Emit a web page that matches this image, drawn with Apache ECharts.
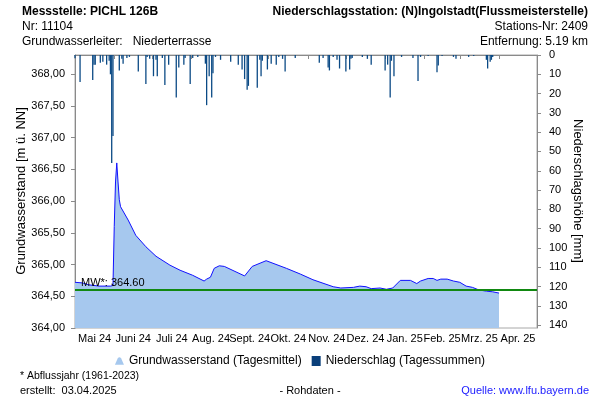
<!DOCTYPE html>
<html><head><meta charset="utf-8">
<script src="https://cdn.jsdelivr.net/npm/echarts@6/dist/echarts.min.js"></script>
<style>html,body{margin:0;padding:0;background:#fff}#c{width:600px;height:400px}</style>
</head><body><div id="c"></div><script>
// ---- data ----
const monthStarts = ['2024-05-01','2024-06-01','2024-07-01','2024-08-01','2024-09-01','2024-10-01','2024-11-01','2024-12-01','2025-01-01','2025-02-01','2025-03-01','2025-04-01','2025-05-01'];
const monthLabels = ['Mai 24','Juni 24','Juli 24','Aug. 24','Sept. 24','Okt. 24','Nov. 24','Dez. 24','Jan. 25','Feb. 25','Mrz. 25','Apr. 25'];

const gwDates = [
 '2024-05-01','2024-05-07','2024-05-12','2024-05-20','2024-05-29','2024-05-31',
 '2024-06-01','2024-06-02','2024-06-03','2024-06-04','2024-06-05','2024-06-06','2024-06-12','2024-06-18','2024-06-26',
 '2024-07-04','2024-07-15','2024-07-23',
 '2024-08-02','2024-08-11','2024-08-13','2024-08-14','2024-08-16','2024-08-19','2024-08-23','2024-08-27',
 '2024-09-12','2024-09-18','2024-09-29',
 '2024-10-15','2024-10-26',
 '2024-11-05','2024-11-21','2024-11-27',
 '2024-12-07','2024-12-12','2024-12-17','2024-12-21','2024-12-28',
 '2025-01-02','2025-01-07','2025-01-13','2025-01-21','2025-01-26','2025-01-29',
 '2025-02-04','2025-02-08','2025-02-11','2025-02-14','2025-02-19','2025-02-24',
 '2025-03-01','2025-03-06','2025-03-11','2025-03-16','2025-03-22','2025-03-27',
 '2025-04-01'];
const gwLevels = [
 364.72,364.71,364.68,364.66,364.66,364.67,
 365.60,366.30,366.60,366.30,366.02,365.91,365.70,365.46,365.28,
 365.13,364.99,364.91,
 364.83,364.74,364.77,364.75,364.80,364.94,364.98,364.97,
 364.82,364.97,365.06,
 364.94,364.85,
 364.76,364.65,364.63,
 364.64,364.66,364.65,364.62,364.63,
 364.61,364.63,364.75,364.75,364.70,364.74,
 364.78,364.78,364.75,364.77,364.77,364.74,
 364.72,364.66,364.64,364.60,364.58,364.57,
 364.55];

const rainDates = [
 '2024-05-01','2024-05-05','2024-05-15','2024-05-16','2024-05-17','2024-05-21','2024-05-23','2024-05-26','2024-05-28','2024-05-29','2024-05-30','2024-05-31',
 '2024-06-05','2024-06-07','2024-06-08','2024-06-11','2024-06-13','2024-06-20','2024-06-26','2024-06-27','2024-06-29',
 '2024-07-02','2024-07-04','2024-07-05','2024-07-09','2024-07-11','2024-07-14','2024-07-20','2024-07-22','2024-07-26','2024-07-27','2024-07-31',
 '2024-08-02','2024-08-06','2024-08-12','2024-08-13','2024-08-15','2024-08-17','2024-08-18','2024-08-20','2024-08-24',
 '2024-09-01','2024-09-07','2024-09-10','2024-09-12','2024-09-14','2024-09-15','2024-09-22','2024-09-24','2024-09-25','2024-09-26','2024-09-30',
 '2024-10-03','2024-10-07','2024-10-09','2024-10-12','2024-10-14','2024-10-22',
 '2024-11-10','2024-11-13','2024-11-17','2024-11-18','2024-11-21','2024-11-24','2024-11-26',
 '2024-12-01','2024-12-04','2024-12-05','2024-12-06','2024-12-14','2024-12-18','2024-12-21',
 '2025-01-01','2025-01-03','2025-01-05','2025-01-06','2025-01-08','2025-01-14','2025-01-23','2025-01-27','2025-01-29',
 '2025-02-04','2025-02-11','2025-02-12','2025-02-15','2025-02-24','2025-02-26',
 '2025-03-08','2025-03-12','2025-03-22','2025-03-23','2025-03-25','2025-03-26','2025-03-27'];
const rainMm = [
 1.7,14,13,5,5,4,3.5,5,3,10,56,42,
 8,2,4.5,1.5,1,8.5,15,1,2,
 11,2.5,11,1.5,15.5,5,22,6.5,5,1.5,15,
 1.5,1,4.5,26,11,22,9.5,1,2.5,
 3.5,5,7.5,12.5,18,16,17,2.5,11,3,7.5,
 4.5,5,1,2,8.5,1.5,
 4,1.5,6.5,8,1,2.5,7,
 8.5,7.5,2,1.5,1,2,5,
 8,5,22,3,11,1,1.5,13.5,1,
 0.5,9,5.5,0.5,1,2,
 1,0.5,2.5,7,3.5,2.5,1];

const meanLevel = 364.60;
const meanLabel = 'MW*: 364.60';
const leftTitle = 'Grundwasserstand [m ü. NN]';
const rightTitle = 'Niederschlagshöhe [mm]';

// ---- helpers ----
function ts(s){const p=s.split('-').map(Number);return new Date(p[0],p[1]-1,p[2]).getTime();}
const startTs = monthStarts.map(ts);
const midTs = monthLabels.map((_,i)=>(startTs[i]+startTs[i+1])/2);
const gwData = gwDates.map((d,i)=>[ts(d),gwLevels[i]]);
const rainData = rainDates.map((d,i)=>[ts(d),rainMm[i]]);

const FONT = '"Liberation Sans", Arial, sans-serif';
const axisGray = '#8a8a8a';

const chart = echarts.init(document.getElementById('c'), null, {renderer:'canvas'});
chart.setOption({
  animation:false,
  textStyle:{fontFamily:FONT},
  grid:{left:75,right:63,top:55,bottom:72,show:true,borderColor:'#a8a8a8',borderWidth:1},
  legend:{
    top:350,left:'center',itemWidth:9,itemHeight:10,itemGap:10,
    textStyle:{fontSize:12,color:'#000',fontFamily:FONT},
    data:[
      {name:'Grundwasserstand (Tagesmittel)',icon:'path://M0,10 L3,3 Q5,0 7,3 L10,10 Z',itemStyle:{color:'#a6c8ee'}},
      {name:'Niederschlag (Tagessummen)',icon:'rect',itemStyle:{color:'#0a3f7a'}}
    ]
  },
  xAxis:{
    type:'value',min:startTs[0],max:startTs[startTs.length-1],
    axisLine:{lineStyle:{color:axisGray}},
    axisTick:{show:true,length:4,customValues:startTs,lineStyle:{color:axisGray}},
    axisLabel:{customValues:midTs,hideOverlap:false,margin:5,fontSize:11,color:'#000',fontFamily:FONT,
      formatter:function(v){const i=midTs.findIndex(m=>Math.abs(m-v)<86400000);return i>=0?monthLabels[i]:'';}},
    splitLine:{show:false}
  },
  yAxis:[
    {type:'value',min:364,max:368.3,interval:0.5,position:'left',
     axisLine:{show:true,lineStyle:{color:axisGray}},
     axisTick:{show:true,length:4,lineStyle:{color:axisGray}},
     axisLabel:{showMaxLabel:false,margin:10,fontSize:11,color:'#000',fontFamily:FONT,
       formatter:v=>v.toFixed(2).replace('.',',')},
     splitLine:{show:false}},
    {type:'value',min:0,max:141.5,interval:10,inverse:true,position:'right',
     axisLine:{show:true,lineStyle:{color:axisGray}},
     axisTick:{show:true,length:4,lineStyle:{color:axisGray}},
     axisLabel:{showMaxLabel:false,margin:12,fontSize:11,color:'#000',fontFamily:FONT},
     splitLine:{show:false}}
  ],
  series:[
    {name:'Grundwasserstand (Tagesmittel)',type:'line',yAxisIndex:0,data:gwData,
     showSymbol:false,symbol:'none',
     lineStyle:{color:'#1010ff',width:1},
     itemStyle:{color:'#a6c8ee'},
     areaStyle:{color:'#a6c8ee',opacity:1,origin:'start'},
     markLine:{silent:true,symbol:'none',
       lineStyle:{color:'#118811',width:2,type:'solid'},
       label:{show:true,position:'insideStartTop',formatter:meanLabel,color:'#000',fontSize:11,fontFamily:FONT,distance:[6,1]},
       data:[{yAxis:meanLevel}]},
     z:2},
    {name:'Niederschlag (Tagessummen)',type:'bar',yAxisIndex:1,data:rainData,
     barWidth:1.3,itemStyle:{color:'#0b4a85'},z:3}
  ],
  graphic:[
    {type:'text',x:21,y:191,rotation:Math.PI/2,style:{text:leftTitle,font:'13px '+FONT,fill:'#000',align:'center',verticalAlign:'middle'}},
    {type:'text',x:578,y:191,rotation:-Math.PI/2,style:{text:rightTitle,font:'13px '+FONT,fill:'#000',align:'center',verticalAlign:'middle'}},
    {type:'text',x:22,y:12,style:{text:'Messstelle: PICHL 126B',font:'bold 12px '+FONT,fill:'#000',verticalAlign:'middle'}},
    {type:'text',x:22,y:27,style:{text:'Nr: 11104',font:'12px '+FONT,fill:'#000',verticalAlign:'middle'}},
    {type:'text',x:22,y:42,style:{text:'Grundwasserleiter:   Niederterrasse',font:'12px '+FONT,fill:'#000',verticalAlign:'middle'}},
    {type:'text',x:588,y:12,style:{text:'Niederschlagsstation: (N)Ingolstadt(Flussmeisterstelle)',font:'bold 12px '+FONT,fill:'#000',align:'right',verticalAlign:'middle'}},
    {type:'text',x:588,y:27,style:{text:'Stations-Nr: 2409',font:'12px '+FONT,fill:'#000',align:'right',verticalAlign:'middle'}},
    {type:'text',x:588,y:42,style:{text:'Entfernung: 5.19 km',font:'12px '+FONT,fill:'#000',align:'right',verticalAlign:'middle'}},
    {type:'text',x:20,y:376,style:{text:'* Abflussjahr (1961-2023)',font:'10.5px '+FONT,fill:'#000',verticalAlign:'middle'}},
    {type:'text',x:20,y:391,style:{text:'erstellt:  03.04.2025',font:'11px '+FONT,fill:'#000',verticalAlign:'middle'}},
    {type:'text',x:310,y:391,style:{text:'- Rohdaten -',font:'11px '+FONT,fill:'#000',align:'center',verticalAlign:'middle'}},
    {type:'text',x:589,y:391,style:{text:'Quelle: www.lfu.bayern.de',font:'11px '+FONT,fill:'#1a1aff',align:'right',verticalAlign:'middle'}}
  ]
});
</script></body></html>
